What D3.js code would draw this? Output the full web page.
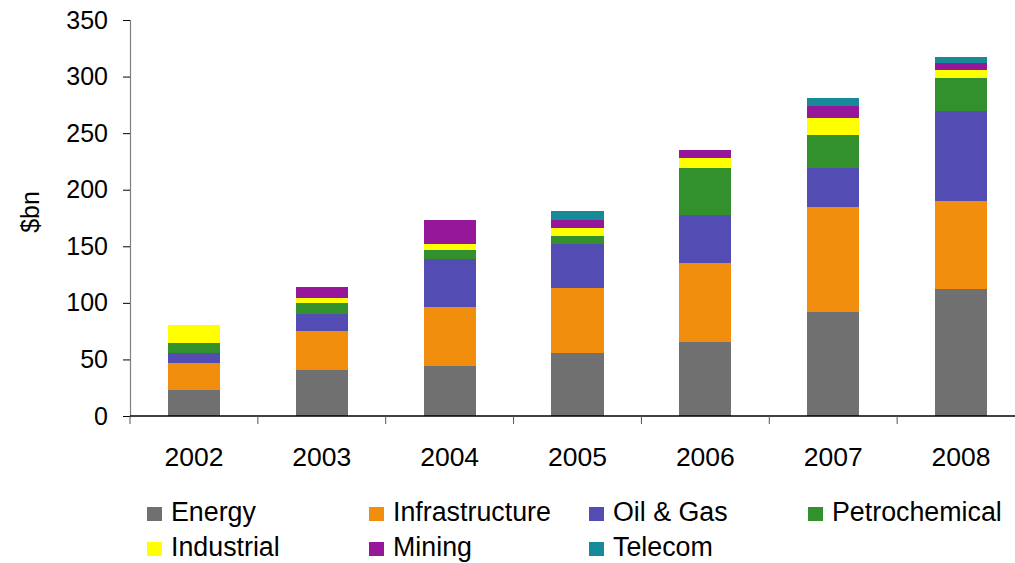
<!DOCTYPE html>
<html>
<head>
<meta charset="utf-8">
<script src="https://cdn.jsdelivr.net/npm/d3@7/dist/d3.min.js"></script>
<style>
  html, body { margin: 0; padding: 0; background: #fff; }
  svg { display: block; font-family: "Liberation Sans", Arial, sans-serif; }
</style>
</head>
<body>
<svg id="chart" width="1015" height="563"></svg>
<script>
// Years on the category axis
const years = ["2002", "2003", "2004", "2005", "2006", "2007", "2008"];

// Sectors, bottom to top of each stack
const sectors = ["Energy", "Infrastructure", "Oil & Gas", "Petrochemical", "Industrial", "Mining", "Telecom"];
const sectorColors = ["#707070", "#f18e0e", "#524cb3", "#33912d", "#ffff00", "#96179a", "#178a98"];

// Values in $bn per sector, one entry per year
const energy         = [23.0, 40.7, 44.2, 55.7, 65.4, 91.9, 112.2];
const infrastructure = [23.8, 34.4, 52.1, 57.4, 69.8, 92.8, 77.8];
const oilGas         = [ 8.6, 15.1, 42.5, 38.9, 42.3, 34.5, 79.6];
const petrochemical  = [ 9.1,  9.7,  7.9,  7.1, 41.7, 29.2, 29.1];
const industrial     = [15.9,  4.4,  5.3,  7.1,  8.8, 15.0,  7.1];
const mining         = [ 0.0,  9.7, 21.2,  7.0,  7.1, 10.6,  6.2];
const telecom        = [ 0.0,  0.0,  0.0,  8.0,  0.0,  7.1,  5.3];

// Value axis ticks
const yTicks = [0, 50, 100, 150, 200, 250, 300, 350];

const seriesValues = [energy, infrastructure, oilGas, petrochemical, industrial, mining, telecom];
const rows = years.map((yr, i) => {
  const r = { year: yr };
  sectors.forEach((s, k) => { r[s] = seriesValues[k][i]; });
  return r;
});

const svg = d3.select("#chart");
const plot = { left: 130, right: 1025, top: 20, bottom: 416 };

const x = d3.scaleBand()
  .domain(years)
  .range([plot.left, plot.right])
  .paddingInner(0.593)
  .paddingOuter(0.2965);

const y = d3.scaleLinear().domain([0, 350]).range([plot.bottom, plot.top]);

const color = d3.scaleOrdinal().domain(sectors).range(sectorColors);

const stacked = d3.stack().keys(sectors)(rows);

// Stacked bars
svg.append("g")
  .selectAll("g")
  .data(stacked)
  .join("g")
  .attr("fill", d => color(d.key))
  .selectAll("rect")
  .data(d => d)
  .join("rect")
  .attr("x", d => x(d.data.year))
  .attr("width", x.bandwidth())
  .attr("y", d => y(d[1]))
  .attr("height", d => y(d[0]) - y(d[1]))
  .attr("shape-rendering", "crispEdges");

// Value axis
const yAxis = svg.append("g")
  .attr("transform", `translate(${plot.left},0)`)
  .call(d3.axisLeft(y).tickValues(yTicks).tickSize(7).tickPadding(15).tickFormat(d3.format("d")));
yAxis.select(".domain").attr("stroke", "#808080").attr("stroke-width", 1.2);
yAxis.selectAll(".tick line").attr("stroke", "#000");
yAxis.selectAll("text")
  .attr("font-size", 25)
  .attr("fill", "#000")
  .attr("font-family", "Liberation Sans, Arial, sans-serif");

// Category axis: line with ticks at band boundaries
const step = x.step();
const xAxis = svg.append("g");
xAxis.append("line")
  .attr("x1", plot.left).attr("x2", 1015)
  .attr("y1", plot.bottom).attr("y2", plot.bottom)
  .attr("stroke", "#000").attr("stroke-width", 1.5);
xAxis.selectAll("line.tk")
  .data(years)
  .join("line")
  .attr("class", "tk")
  .attr("x1", d => x(d) - x.paddingInner() * step / 2)
  .attr("x2", d => x(d) - x.paddingInner() * step / 2)
  .attr("y1", plot.bottom).attr("y2", plot.bottom + 8)
  .attr("stroke", "#555").attr("stroke-width", 1);
xAxis.selectAll("text")
  .data(years)
  .join("text")
  .attr("x", d => x(d) + x.bandwidth() / 2)
  .attr("y", 466)
  .attr("text-anchor", "middle")
  .attr("font-size", 26.5)
  .text(d => d);

// Axis title
svg.append("text")
  .attr("transform", "translate(39,212) rotate(-90)")
  .attr("text-anchor", "middle")
  .attr("font-size", 25)
  .text("$bn");

// Legend, two rows
const legendCols = [147, 369, 589, 808];
const legendRows = [521, 556];
const legend = svg.append("g")
  .selectAll("g")
  .data(sectors)
  .join("g")
  .attr("transform", (d, i) => `translate(${legendCols[i % 4]},${legendRows[Math.floor(i / 4)]})`);
legend.append("rect")
  .attr("x", 0).attr("y", -14)
  .attr("width", 15).attr("height", 14)
  .attr("fill", d => color(d));
legend.append("text")
  .attr("x", 24).attr("y", 0)
  .attr("font-size", 26.8)
  .text(d => d);
</script>
</body>
</html>
